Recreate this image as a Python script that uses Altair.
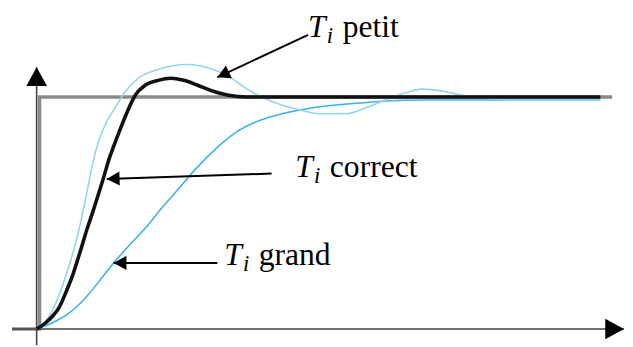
import math
import altair as alt
import pandas as pd

# ---------------- data (time t, response r; step level = 1) ----------------
t_correct = [0, 0.18, 0.32, 0.46, 0.60, 0.74, 0.88, 1.02, 1.14, 1.26, 1.36, 1.46, 1.56, 1.66,
             1.82, 2.00, 2.20, 2.46, 2.72, 2.98, 3.26, 3.56, 3.86, 4.26, 7.26, 11.42]
r_correct = [0, 0.026, 0.055, 0.094, 0.162, 0.238, 0.332, 0.430, 0.506, 0.587, 0.655, 0.728, 0.787, 0.843,
             0.928, 1.009, 1.051, 1.072, 1.081, 1.072, 1.051, 1.026, 1.009, 1.000, 1.000, 1.000]

t_petit = [0, 0.18, 0.32, 0.46, 0.60, 0.74, 0.86, 1.00, 1.12, 1.26, 1.42, 1.60, 1.76, 2.06, 2.46,
           3.06, 3.52, 3.92, 4.26, 4.60, 4.96, 5.32, 5.72, 6.26, 6.66, 7.06, 7.46, 7.80, 8.20,
           8.60, 9.06, 9.66, 11.42]
r_petit = [0, 0.034, 0.081, 0.149, 0.234, 0.332, 0.430, 0.570, 0.698, 0.813, 0.894, 0.957, 1.013, 1.081, 1.119,
           1.140, 1.123, 1.085, 1.034, 0.996, 0.966, 0.945, 0.928, 0.928, 0.953, 0.987, 1.017, 1.034, 1.026,
           1.009, 0.996, 0.987, 0.987]

t_grand = [0, 0.22, 0.42, 0.60, 0.86, 1.10, 1.34, 1.56, 1.86, 2.20, 2.56, 2.86, 3.20, 3.66, 4.06,
           4.46, 5.06, 5.56, 6.06, 6.56, 7.06, 7.86, 11.42]
r_grand = [0, 0.017, 0.038, 0.060, 0.106, 0.162, 0.226, 0.285, 0.357, 0.434, 0.528, 0.600, 0.685, 0.783, 0.851,
           0.894, 0.932, 0.953, 0.966, 0.974, 0.983, 0.987, 0.987]

t_step = [-0.5, 0.06, 0.06, 11.66]
r_step = [0, 0, 1.0, 1.0]

# annotations: arrow tip -> tail, label anchor (baseline-left of "T")
ann_word = ["petit", "correct", "grand"]
ann_tip_t = [3.66, 1.42, 1.56]
ann_tip_r = [1.085, 0.647, 0.285]
ann_tail_t = [5.50, 4.76, 3.66]
ann_tail_r = [1.268, 0.670, 0.285]
lab_t = [5.50, 5.24, 3.80]
lab_r = [1.2596, 0.655, 0.2766]

# axes (t, r of line ends / arrow tips)
xaxis_t = [-0.5, 11.9]
yaxis_r = [-0.07, 1.128]

# ---------------- layout ----------------
W, H = 625, 339
X_DOMAIN = [-0.58, 11.92]
Y_DOMAIN = [-0.0681, 1.3745]
PX_T = W / (X_DOMAIN[1] - X_DOMAIN[0])
PX_R = H / (Y_DOMAIN[1] - Y_DOMAIN[0])
xs = alt.Scale(domain=X_DOMAIN, nice=False, zero=False)
ys = alt.Scale(domain=Y_DOMAIN, nice=False, zero=False)
ARROW = "M0,0L0.55,1L-0.55,1Z"
FONT = "Liberation Serif"


def curve(t, r, color, width, interp="monotone"):
    df = pd.DataFrame({"t": t, "r": r, "o": list(range(len(t)))})
    return alt.Chart(df).mark_line(color=color, strokeWidth=width, interpolate=interp,
                                   clip=False).encode(
        x=alt.X("t:Q", scale=xs, axis=None),
        y=alt.Y("r:Q", scale=ys, axis=None),
        order="o:Q")


def pix_angle(dx_t, dy_r):
    # clockwise angle from "up" of a direction given in data units
    dx = dx_t * PX_T
    dy = -dy_r * PX_R
    a = math.degrees(math.atan2(dx, -dy))
    return a % 360


step = curve(t_step, r_step, "#8a8a8a", 3.5, "linear")

axes_df = pd.DataFrame({
    "t": [xaxis_t[0], 0], "t2": [xaxis_t[1], 0],
    "r": [0, yaxis_r[0]], "r2": [0, yaxis_r[1]]})
axes = alt.Chart(axes_df).mark_rule(color="#444444", strokeWidth=1.6).encode(
    x=alt.X("t:Q", scale=xs, axis=None), x2="t2:Q",
    y=alt.Y("r:Q", scale=ys, axis=None), y2="r2:Q")

axis_heads_df = pd.DataFrame({"t": [0, xaxis_t[1]], "r": [yaxis_r[1], 0], "a": [0, 90]})
axis_heads = alt.Chart(axis_heads_df).mark_point(
    shape=ARROW, filled=True, color="black", opacity=1, size=1444, strokeWidth=0).encode(
    x=alt.X("t:Q", scale=xs, axis=None), y=alt.Y("r:Q", scale=ys, axis=None),
    angle=alt.Angle("a:Q", scale=None))

grand = curve(t_grand, r_grand, "#3db2e8", 1.6)
petit = curve(t_petit, r_petit, "#92d4f2", 1.6)
correct = curve(t_correct, r_correct, "#111111", 3.6)

ann_df = pd.DataFrame({
    "t": ann_tip_t, "r": ann_tip_r, "t2": ann_tail_t, "r2": ann_tail_r,
    "a": [pix_angle(a - b, c - d) for a, b, c, d in zip(ann_tip_t, ann_tail_t, ann_tip_r, ann_tail_r)]})
ann_lines = alt.Chart(ann_df).mark_rule(color="black", strokeWidth=2).encode(
    x=alt.X("t:Q", scale=xs, axis=None), x2="t2:Q",
    y=alt.Y("r:Q", scale=ys, axis=None), y2="r2:Q")
ann_heads = alt.Chart(ann_df).mark_point(
    shape=ARROW, filled=True, color="black", opacity=1, size=676, strokeWidth=0).encode(
    x=alt.X("t:Q", scale=xs, axis=None), y=alt.Y("r:Q", scale=ys, axis=None),
    angle=alt.Angle("a:Q", scale=None))

lab_df = pd.DataFrame({"t": lab_t, "r": lab_r, "w": ann_word, "T": ["T"] * 3, "i": ["i"] * 3})
base = alt.Chart(lab_df).encode(
    x=alt.X("t:Q", scale=xs, axis=None), y=alt.Y("r:Q", scale=ys, axis=None))
lab_T = base.mark_text(align="left", baseline="alphabetic", font=FONT, fontSize=32,
                       fontStyle="italic", color="black").encode(text="T:N")
lab_i = base.mark_text(align="left", baseline="alphabetic", font=FONT, fontSize=23,
                       fontStyle="italic", color="black", dx=19, dy=6).encode(text="i:N")
lab_w = base.mark_text(align="left", baseline="alphabetic", font=FONT, fontSize=32,
                       color="black", dx=35).encode(text="w:N")

chart = alt.layer(step, axes, axis_heads, grand, petit, correct, ann_lines, ann_heads,
                  lab_T, lab_i, lab_w).properties(
    width=W, height=H, padding=0,
    autosize=alt.AutoSizeParams(type="none"),
).configure_view(stroke=None)

chart.save("out.html", embed_options={"renderer": "svg", "actions": False})
